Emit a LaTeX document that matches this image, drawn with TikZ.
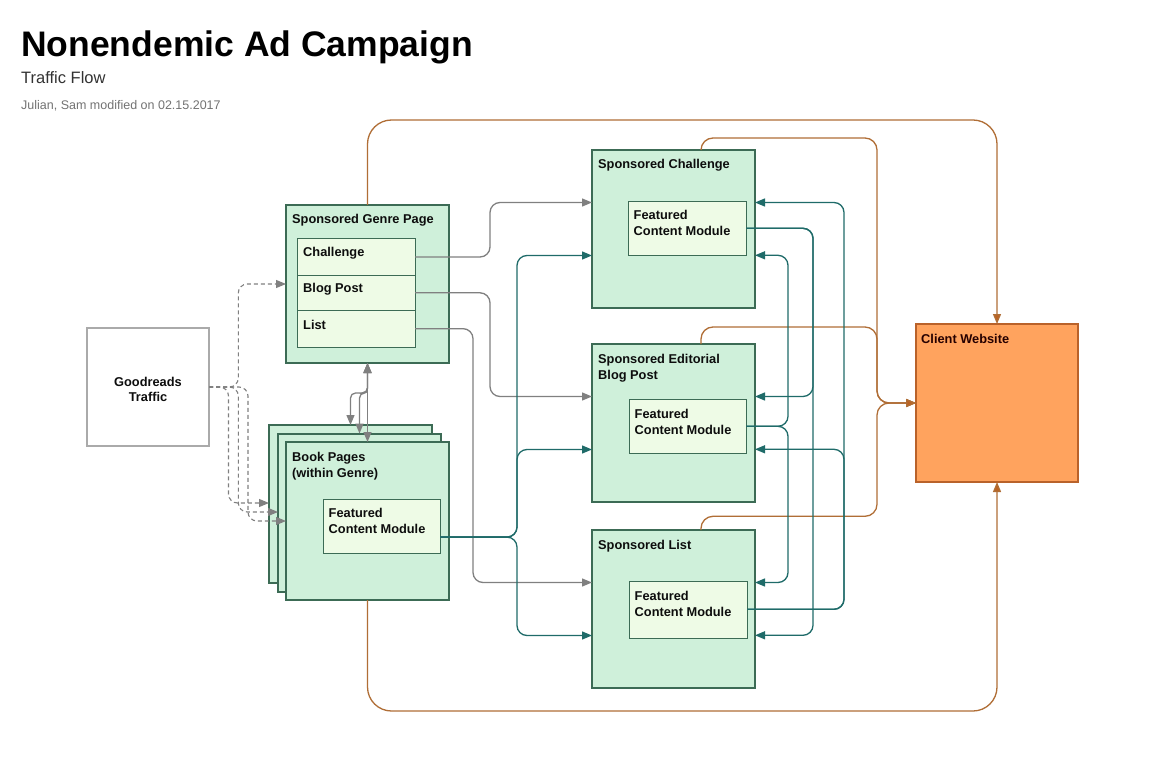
\documentclass[tikz,border=0pt]{standalone}
\usepackage{fontspec}
\setmainfont{Liberation Sans}
\usetikzlibrary{arrows.meta}
\definecolor{gfill}{HTML}{CFF0DA}
\definecolor{gborder}{HTML}{3C6B55}
\definecolor{ifill}{HTML}{EEFBE6}
\definecolor{lgray}{HTML}{808080}
\definecolor{tealc}{HTML}{1F6B69}
\definecolor{orline}{HTML}{B06E36}
\definecolor{ortip}{HTML}{BC6222}
\definecolor{cwfill}{HTML}{FFA35E}
\definecolor{cwborder}{HTML}{B9622A}
\definecolor{grbox}{HTML}{AAAAAA}
\tikzset{
  box/.style={draw=gborder, fill=gfill, line width=2pt, anchor=north west, inner sep=0pt, outer sep=0pt},
  inbox/.style={draw=gborder, fill=ifill, line width=1pt, anchor=north west, inner sep=0pt, outer sep=0pt},
  lbl/.style={anchor=base west, inner sep=0pt, font=\fontsize{12.8}{15}\selectfont\bfseries, text=black!95},
  gline/.style={draw=lgray, line width=1.3pt, rounded corners=10pt, -{Triangle[length=10pt,width=8pt]}},
  g2line/.style={draw=lgray, line width=1.3pt, rounded corners=5pt, {Triangle[length=10pt,width=8pt]}-{Triangle[length=10pt,width=8pt]}},
  dline/.style={draw=lgray, line width=1.1pt, dashed, dash pattern=on 4pt off 3pt, rounded corners=9pt, -{Triangle[length=10pt,width=8pt]}},
  tline/.style={draw=tealc, line width=1.3pt, rounded corners=10pt, -{Triangle[length=10pt,width=8pt]}},
  oline/.style={draw=orline, line width=1.3pt, rounded corners=12pt, -{Triangle[length=10pt,width=8pt,fill=ortip]}},
}
\begin{document}
\begin{tikzpicture}[x=1pt,y=-1pt]
\useasboundingbox[fill=white] (0,0) rectangle (1155,783);

% titles
\node[anchor=base west, inner sep=0pt, font=\fontsize{35.5}{40}\selectfont\bfseries] (title) at (21,57) {Nonendemic Ad Campaign};
\node[anchor=base west, inner sep=0pt, font=\fontsize{16.5}{19}\selectfont, text=black!80] (subtitle) at (21,84) {Traffic Flow};
\node[anchor=base west, inner sep=0pt, font=\fontsize{12.5}{15}\selectfont, text=black!55] (author) at (21,110) {Julian, Sam modified on 02.15.2017};

% Goodreads traffic
\node[draw=grbox, fill=white, line width=2pt, anchor=north west, inner sep=0pt, outer sep=0pt, minimum width=122pt, minimum height=118pt] (gr) at (87,328) {};
\node[lbl, anchor=base] (grT1) at (148,386) {Goodreads};
\node[lbl, anchor=base] (grT2) at (148,401) {Traffic};

% Sponsored genre page
\node[box, minimum width=163pt, minimum height=158pt] (genre) at (286,205) {};
\node[inbox, minimum width=118pt, minimum height=36.6pt] (chRow) at (297,238.7) {};
\node[inbox, minimum width=118pt, minimum height=35pt] (bpRow) at (297,275.3) {};
\node[inbox, minimum width=118pt, minimum height=36.7pt] (liRow) at (297,310.3) {};
\node[lbl] (genreT) at (292,224) {Sponsored Genre Page};
\node[lbl] (chT) at (303,257) {Challenge};
\node[lbl] (bpT) at (303,293) {Blog Post};
\node[lbl] (liT) at (303,329) {List};

% Book pages stack
\node[box, minimum width=163pt, minimum height=158pt] (back) at (269,425) {};
\node[box, minimum width=163pt, minimum height=158pt] (mid) at (278,433.5) {};
\node[box, minimum width=163pt, minimum height=158pt] (front) at (286,442) {};
\node[inbox, minimum width=117pt, minimum height=54pt] (bfcm) at (323.3,499.3) {};
\node[lbl] (bookT1) at (292,461) {Book Pages};
\node[lbl] (bookT2) at (292,477) {(within Genre)};
\node[lbl] (bfT1) at (328.5,517) {Featured};
\node[lbl] (bfT2) at (328.5,533.5) {Content Module};

% Sponsored challenge
\node[box, minimum width=163pt, minimum height=158pt] (sc) at (592,150) {};
\node[inbox, minimum width=118pt, minimum height=54pt] (cfcm) at (628.3,201.3) {};
\node[lbl] (scT) at (598,169) {Sponsored Challenge};
\node[lbl] (cfT1) at (633.5,220) {Featured};
\node[lbl] (cfT2) at (633.5,236) {Content Module};

% Sponsored editorial blog post
\node[box, minimum width=163pt, minimum height=158pt] (se) at (592,344) {};
\node[inbox, minimum width=117pt, minimum height=54pt] (efcm) at (629.3,399.3) {};
\node[lbl] (seT1) at (598,363) {Sponsored Editorial};
\node[lbl] (seT2) at (598,379) {Blog Post};
\node[lbl] (efT1) at (634.5,418.3) {Featured};
\node[lbl] (efT2) at (634.5,434.5) {Content Module};

% Sponsored list
\node[box, minimum width=163pt, minimum height=158pt] (sl) at (592,530) {};
\node[inbox, minimum width=118pt, minimum height=56.6pt] (lfcm) at (629.3,581.7) {};
\node[lbl] (slT) at (598,549) {Sponsored List};
\node[lbl] (lfT1) at (634.5,600) {Featured};
\node[lbl] (lfT2) at (634.5,616) {Content Module};

% Client website
\node[draw=cwborder, fill=cwfill, line width=2pt, anchor=north west, inner sep=0pt, outer sep=0pt, minimum width=162pt, minimum height=158pt] (cw) at (916,324) {};
\node[lbl, text=black!85!red] (cwT) at (921,343) {Client Website};

% helper coordinates
\foreach \b in {sc,se,sl}{
  \coordinate (\b L1) at ([yshift=-52.5pt]\b.north west);
  \coordinate (\b L2) at ([yshift=-105.5pt]\b.north west);
  \coordinate (\b R1) at ([yshift=-52.5pt]\b.north east);
  \coordinate (\b R2) at ([yshift=-105.3pt]\b.north east);
}
\coordinate (gx1) at (490,0);
\coordinate (gx2) at (473,0);
\coordinate (tx0) at (517,0);
\coordinate (tx1) at (788,0);
\coordinate (tx2) at (813,0);
\coordinate (tx3) at (844,0);
\coordinate (ox) at (877,0);
\coordinate (oy1) at (0,138);
\coordinate (oy2) at (0,327);
\coordinate (oy3) at (0,516.3);
\coordinate (otop) at (0,120);
\coordinate (obot) at (0,711);
\coordinate (dx1) at (228.5,0);
\coordinate (dx2) at (238.3,0);
\coordinate (dx3) at (248,0);
\coordinate (ay) at (0,393);
\coordinate (bOut) at ([yshift=-37.8pt]bfcm.north east);
\coordinate (genreD) at ([yshift=-79pt]genre.north west);
\coordinate (backD) at ([yshift=-78pt]back.north west);
\coordinate (midD) at ([yshift=-78.5pt]mid.north west);
\coordinate (frontD) at ([yshift=-79pt]front.north west);
\coordinate (scTop) at ([xshift=109pt]sc.north west);
\coordinate (seTop) at ([xshift=109pt]se.north west);
\coordinate (slTop) at ([xshift=109pt]sl.north west);

% orange connectors to client website
\draw[oline, rounded corners=24pt] (genre.north) |- (cw.north |- otop) -- (cw.north);
\draw[oline, rounded corners=24pt] (front.south) |- (cw.south |- obot) -- (cw.south);
\draw[oline] (scTop) |- (ox |- oy1) |- (cw.west);
\draw[oline] (seTop) |- (ox |- oy2) |- (cw.west);
\draw[oline] (slTop) |- (ox |- oy3) |- (cw.west);

% gray connectors from genre page rows
\draw[gline] (chRow.east) -| (gx1 |- scL1) -- (scL1);
\draw[gline] (bpRow.east) -| (gx1 |- seL1) -- (seL1);
\draw[gline] (liRow.east) -| (gx2 |- slL1) -- (slL1);

% teal connectors from book pages module
\draw[tline] (bOut) -| (tx0 |- scL2) -- (scL2);
\draw[tline] (bOut) -| (tx0 |- seL2) -- (seL2);
\draw[tline] (bOut) -| (tx0 |- slL2) -- (slL2);

% teal connectors between sponsored modules
\draw[tline] (cfcm.east) -| (tx2 |- seR1) -- (seR1);
\draw[tline] (cfcm.east) -| (tx2 |- slR2) -- (slR2);
\draw[tline] (efcm.east) -| (tx1 |- scR2) -- (scR2);
\draw[tline] (efcm.east) -| (tx1 |- slR1) -- (slR1);
\draw[tline] ([yshift=-27.6pt]lfcm.north east) -| (tx3 |- seR2) -- (seR2);
\draw[tline] ([yshift=-27.6pt]lfcm.north east) -| (tx3 |- scR1) -- (scR1);

% genre page <-> book pages
\draw[g2line] (genre.south) |- (back.north |- ay) -- (back.north);
\draw[g2line] (genre.south) |- (mid.north |- ay) -- (mid.north);
\draw[g2line] (genre.south) -- (front.north);

% dashed traffic
\draw[dline] (gr.east) -| (dx2 |- genreD) -- (genreD);
\draw[dline] (gr.east) -| (dx1 |- backD) -- (backD);
\draw[dline] (gr.east) -| (dx2 |- midD) -- (midD);
\draw[dline] (gr.east) -| (dx3 |- frontD) -- (frontD);
\end{tikzpicture}
\end{document}
